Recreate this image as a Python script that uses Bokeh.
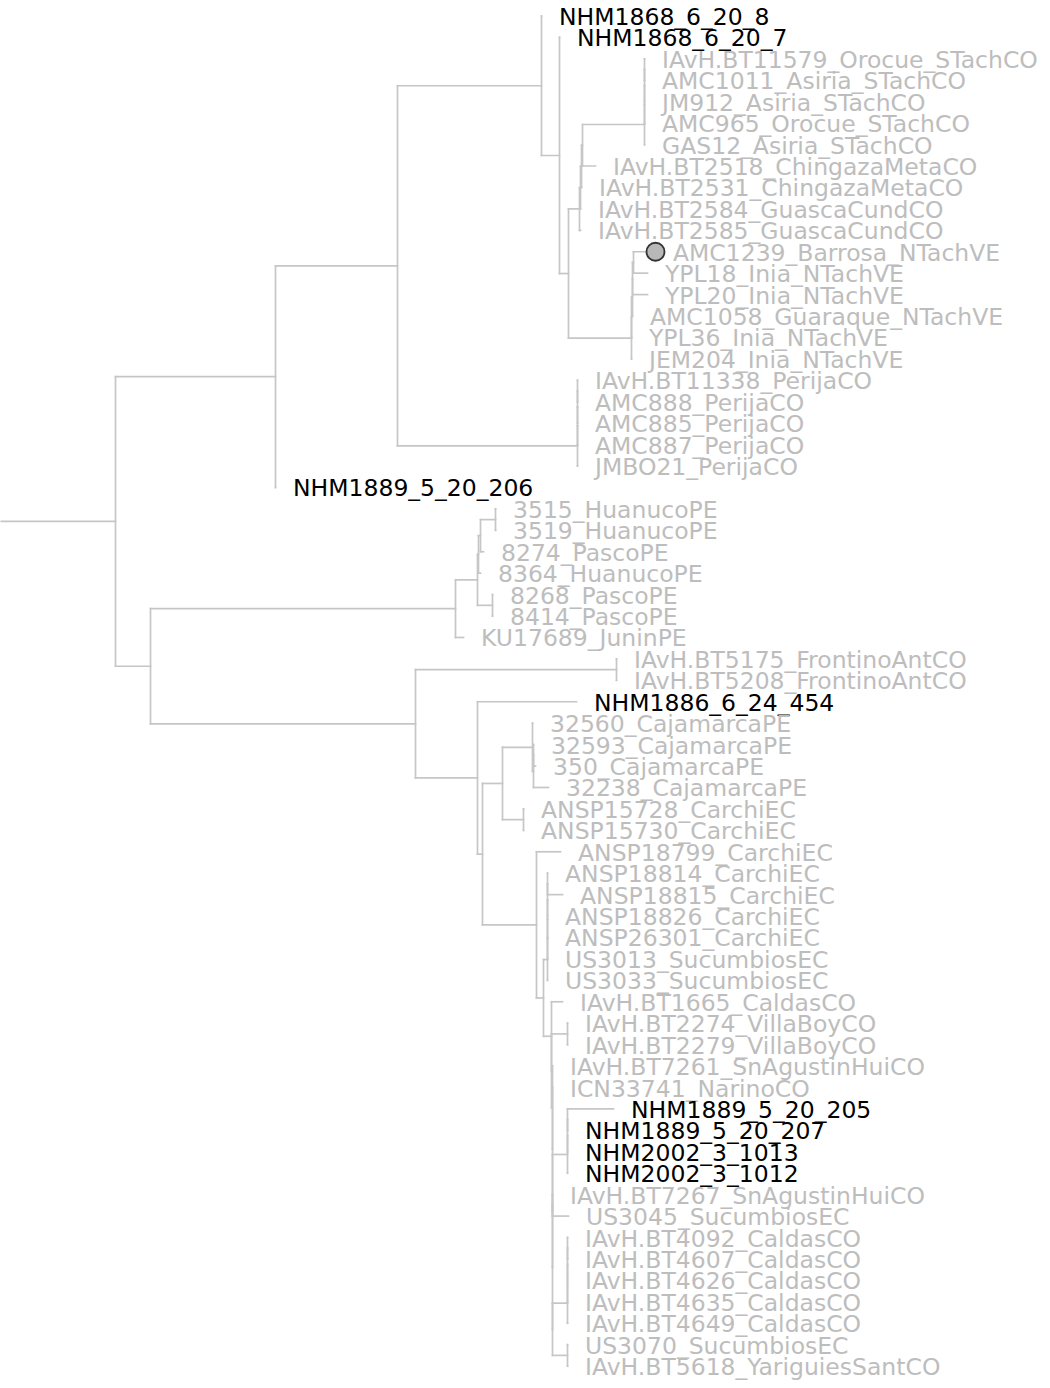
from bokeh.plotting import figure
from bokeh.models import ColumnDataSource, Range1d
from bokeh.core.properties import value
from bokeh.embed import file_html
from bokeh.resources import INLINE

# ---- tree data: node, parent, branch length (units of 1e-4 subst./site) ----
NODE = [
    "root", "n275", "n150", "n397", "NHM1889_5_20_206", "n541", "per4",
    "NHM1868_6_20_8", "n559", "NHM1868_6_20_7", "n568", "p4", "q5",
    "p3", "IAvH.BT2585_GuascaCundCO", "p2", "IAvH.BT2584_GuascaCundCO",
    "p1", "IAvH.BT2531_ChingazaMetaCO", "st4", "IAvH.BT2518_ChingazaMetaCO",
    "st3", "GAS12_Asiria_STachCO", "st2", "AMC965_Orocue_STachCO",
    "st1", "JM912_Asiria_STachCO", "IAvH.BT11579_Orocue_STachCO", "AMC1011_Asiria_STachCO",
    "q4", "JEM204_Inia_NTachVE", "q3", "YPL36_Inia_NTachVE",
    "q2", "AMC1058_Guaraque_NTachVE", "q1", "YPL20_Inia_NTachVE",
    "AMC1239_Barrosa_NTachVE", "YPL18_Inia_NTachVE",
    "per3", "JMBO21_PerijaCO", "per2", "AMC887_PerijaCO",
    "per1", "AMC885_PerijaCO", "IAvH.BT11338_PerijaCO", "AMC888_PerijaCO",
    "r6", "n415", "r5", "KU17689_JuninPE", "r3", "r4",
    "r2", "8364_HuanucoPE", "r1", "8274_PascoPE",
    "3515_HuanucoPE", "3519_HuanucoPE", "8268_PascoPE", "8414_PascoPE",
    "fr", "n477", "IAvH.BT5175_FrontinoAntCO", "IAvH.BT5208_FrontinoAntCO",
    "NHM1886_6_24_454", "n482", "n502", "n536", "n532", "an1",
    "32560_CajamarcaPE", "c1", "c2", "32238_CajamarcaPE",
    "32593_CajamarcaPE", "350_CajamarcaPE",
    "ANSP15728_CarchiEC", "ANSP15730_CarchiEC",
    "ANSP18799_CarchiEC", "n543", "t5", "b1",
    "t4", "US3033_SucumbiosEC", "t3", "US3013_SucumbiosEC",
    "t2", "ANSP26301_CarchiEC", "t1", "ANSP18826_CarchiEC",
    "ANSP18814_CarchiEC", "ANSP18815_CarchiEC",
    "IAvH.BT1665_CaldasCO", "b2", "vb", "b3",
    "IAvH.BT2274_VillaBoyCO", "IAvH.BT2279_VillaBoyCO",
    "IAvH.BT7261_SnAgustinHuiCO", "b4", "ICN33741_NarinoCO", "b5",
    "nh3", "b6", "nh2", "NHM2002_3_1012", "nh1", "NHM2002_3_1013",
    "NHM1889_5_20_205", "NHM1889_5_20_207",
    "b7", "b8", "IAvH.BT7267_SnAgustinHuiCO", "US3045_SucumbiosEC",
    "ca4", "us2", "ca3", "IAvH.BT4649_CaldasCO", "ca2", "IAvH.BT4635_CaldasCO",
    "ca1", "IAvH.BT4626_CaldasCO", "IAvH.BT4092_CaldasCO", "IAvH.BT4607_CaldasCO",
    "US3070_SucumbiosEC", "IAvH.BT5618_YariguiesSantCO",
]
PARENT = [
    None, "root", "root", "n275", "n275", "n397", "n397",
    "n541", "n541", "n559", "n559", "n568", "n568",
    "p4", "p4", "p3", "p3",
    "p2", "p2", "p1", "p1",
    "st4", "st4", "st3", "st3",
    "st2", "st2", "st1", "st1",
    "q5", "q5", "q4", "q4",
    "q3", "q3", "q2", "q2",
    "q1", "q1",
    "per4", "per4", "per3", "per3",
    "per2", "per2", "per1", "per1",
    "n150", "n150", "r6", "r6", "r5", "r5",
    "r3", "r3", "r2", "r2",
    "r1", "r1", "r4", "r4",
    "n415", "n415", "fr", "fr",
    "n477", "n477", "n482", "n482", "n502", "n502",
    "n532", "n532", "c1", "c1",
    "c2", "c2",
    "an1", "an1",
    "n536", "n536", "n543", "n543",
    "t5", "t5", "t4", "t4",
    "t3", "t3", "t2", "t2",
    "t1", "t1",
    "b1", "b1", "b2", "b2",
    "vb", "vb",
    "b3", "b3", "b4", "b4",
    "b5", "b5", "nh3", "nh3", "nh2", "nh2",
    "nh1", "nh1",
    "b6", "b6", "b7", "b7",
    "b8", "b8", "ca4", "ca4", "ca3", "ca3",
    "ca2", "ca2", "ca1", "ca1",
    "us2", "us2",
]
BLEN = [
    115, 160, 35, 122, 0, 144, 180,
    0, 18, 0, 9, 11, 63,
    1, 1, 1, 0,
    1, 0, 62, 13,
    0, 0, 0, 0,
    0, 0, 0, 0,
    0, 0, 1, 0,
    0, 0, 1, 15,
    22, 14,
    0, 0, 0, 0,
    0, 0, 0, 0,
    305, 265, 22, 8, 1, 15,
    2, 2, 15, 3,
    0, 0, 0, 0,
    201, 62, 0, 0,
    99, 5, 20, 54, 30, 21,
    0, 1, 0, 15,
    0, 2,
    0, 0,
    24, 7, 4, 8,
    0, 0, 0, 0,
    0, 0, 0, 0,
    0, 15,
    11, 0, 16, 1,
    0, 0,
    0, 0, 0, 0,
    15, 0, 0, 0, 0, 0,
    46, 0,
    0, 0, 0, 16,
    15, 15, 0, 0, 0, 0,
    0, 0, 0, 0,
    0, 0,
]
HIGHLIGHT = ["NHM1868_6_20_8", "NHM1868_6_20_7", "NHM1889_5_20_206", "NHM1886_6_24_454",
             "NHM1889_5_20_205", "NHM1889_5_20_207", "NHM2002_3_1013", "NHM2002_3_1012"]
MARKED = ["AMC1239_Barrosa_NTachVE"]

SCALE = 1e-4
LINE_C = "#c6c6c6"
GRAY_T = "#bdbdbd"

# ---- layout ----
children = {n: [] for n in NODE}
for n, par in zip(NODE, PARENT):
    if par is not None:
        children[par].append(n)
blen = dict(zip(NODE, BLEN))
xpos, ypos = {}, {}
tips = []

def place_x(n, x):
    xpos[n] = x
    for c in children[n]:
        place_x(c, x + blen[c] * SCALE)

def place_y(n):
    if not children[n]:
        ypos[n] = float(len(tips))
        tips.append(n)
    else:
        for c in children[n]:
            place_y(c)
        ypos[n] = (ypos[children[n][0]] + ypos[children[n][-1]]) / 2.0

root = NODE[0]
place_x(root, blen[root] * SCALE)
place_y(root)

hx0, hx1, hy = [0.0], [xpos[root]], [ypos[root]]
for n, par in zip(NODE, PARENT):
    if par is not None:
        hx0.append(xpos[par]); hx1.append(xpos[n]); hy.append(ypos[n])
vx, vy0, vy1 = [], [], []
for n in NODE:
    if children[n]:
        vx.append(xpos[n]); vy0.append(ypos[children[n][0]]); vy1.append(ypos[children[n][-1]])

W, H = 1042, 1380
TOP, STEP = 15.5, 21.43   # pixel position of first tip row and row spacing
p = figure(width=W, height=H, output_backend="svg", toolbar_location=None,
           x_range=Range1d(0.0, W * SCALE),
           y_range=Range1d((H - TOP) / STEP, -TOP / STEP),
           min_border=0, outline_line_color=None, background_fill_color="white")
p.axis.visible = False
p.grid.visible = False

p.segment(x0=hx0, y0=hy, x1=hx1, y1=hy, line_color=LINE_C, line_width=1.7, line_cap="square")
p.segment(x0=vx, y0=vy0, x1=vx, y1=vy1, line_color=LINE_C, line_width=1.7, line_cap="square")

lab = ColumnDataSource(dict(
    x=[xpos[t] for t in tips], y=[ypos[t] for t in tips], text=tips,
    color=["#000000" if t in HIGHLIGHT else GRAY_T for t in tips]))
p.text(x="x", y="y", text="text", source=lab, text_color="color",
       text_font=value("DejaVu Sans"), text_font_size="23.5px",
       text_baseline="middle", text_align="left", x_offset=17.5, y_offset=1)

p.scatter(x=[xpos[m] for m in MARKED], y=[ypos[m] for m in MARKED], size=18,
          fill_color="#b8b8b8", line_color="#333333", line_width=1.8)

open("out.html", "w").write(file_html(p, INLINE))
